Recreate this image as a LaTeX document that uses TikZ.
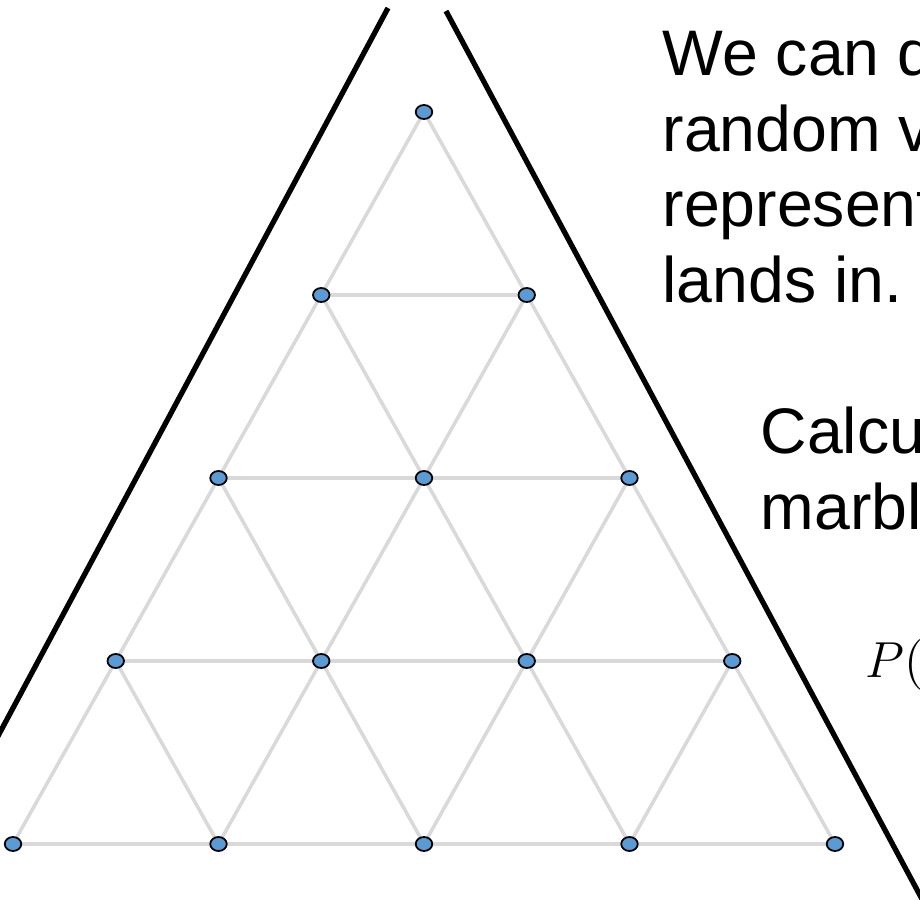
\documentclass[tikz,border=0pt]{standalone}
\usepackage{fontspec}
\setmainfont{Liberation Sans}
\usepackage{tikz}
\usetikzlibrary{shapes.geometric}

\definecolor{marbleblue}{RGB}{91,155,213}
\definecolor{pegline}{RGB}{217,217,217}

\begin{document}
\begin{tikzpicture}[
  x=0.01cm,y=-0.01cm,
  wall/.style={line width=1.5pt,line cap=butt},
  peg/.style={pegline,line width=1pt},
  marble/.style={ellipse,draw=black,line width=0.5pt,fill=marbleblue,
    minimum width=0.165cm,minimum height=0.14cm,inner sep=0pt},
  body/.style={font=\fontsize{18.3}{21.6}\selectfont,inner sep=0pt,anchor=base west},
  formula/.style={font=\fontsize{13.7}{16}\selectfont,inner sep=0pt,anchor=base west}
]
  \clip (0,0) rectangle (920,900);
  \def\dx{205.5}
  \def\dy{183}

  % board walls
  \coordinate (wlt) at (388,8);
  \coordinate (wlb) at (-10,751);
  \coordinate (wrt) at (446,11);
  \coordinate (wrb) at (930,914);
  \draw[wall] (wlt) -- (wlb);
  \draw[wall] (wrt) -- (wrb);

  % peg positions
  \foreach \i in {0,...,4}{
    \foreach \j in {0,...,\i}{
      \coordinate (p\i\j) at ({424+(\j-\i/2)*\dx},{112+\i*\dy});
    }
  }

  \foreach \i in {0,...,3}{
    \pgfmathtruncatemacro{\k}{\i+1}
    \foreach \j in {0,...,\i}{
      \pgfmathtruncatemacro{\m}{\j+1}
      \draw[peg] (p\i\j) -- (p\k\j);
      \draw[peg] (p\i\j) -- (p\k\m);
      \draw[peg] (p\k\j) -- (p\k\m);
    }
  }

  \foreach \i in {0,...,4}{
    \foreach \j in {0,...,\i}{
      \node[marble] (d\i\j) at (p\i\j) {};
    }
  }

  % text on the right
  \node[body] (t1) at (662,75) {We can define a};
  \node[body] (t2) at (662,151) {random variable};
  \node[body] (t3) at (662,227) {representing the bin};
  \node[body] (t4) at (662,302) {lands in.};
  \node[body] (c1) at (760,454) {Calculate the probability};
  \node[body] (c2) at (760,530) {marble lands in bin};
  \node[formula] (pk) at (865,678) {$P(X=k)$};
\end{tikzpicture}
\end{document}
